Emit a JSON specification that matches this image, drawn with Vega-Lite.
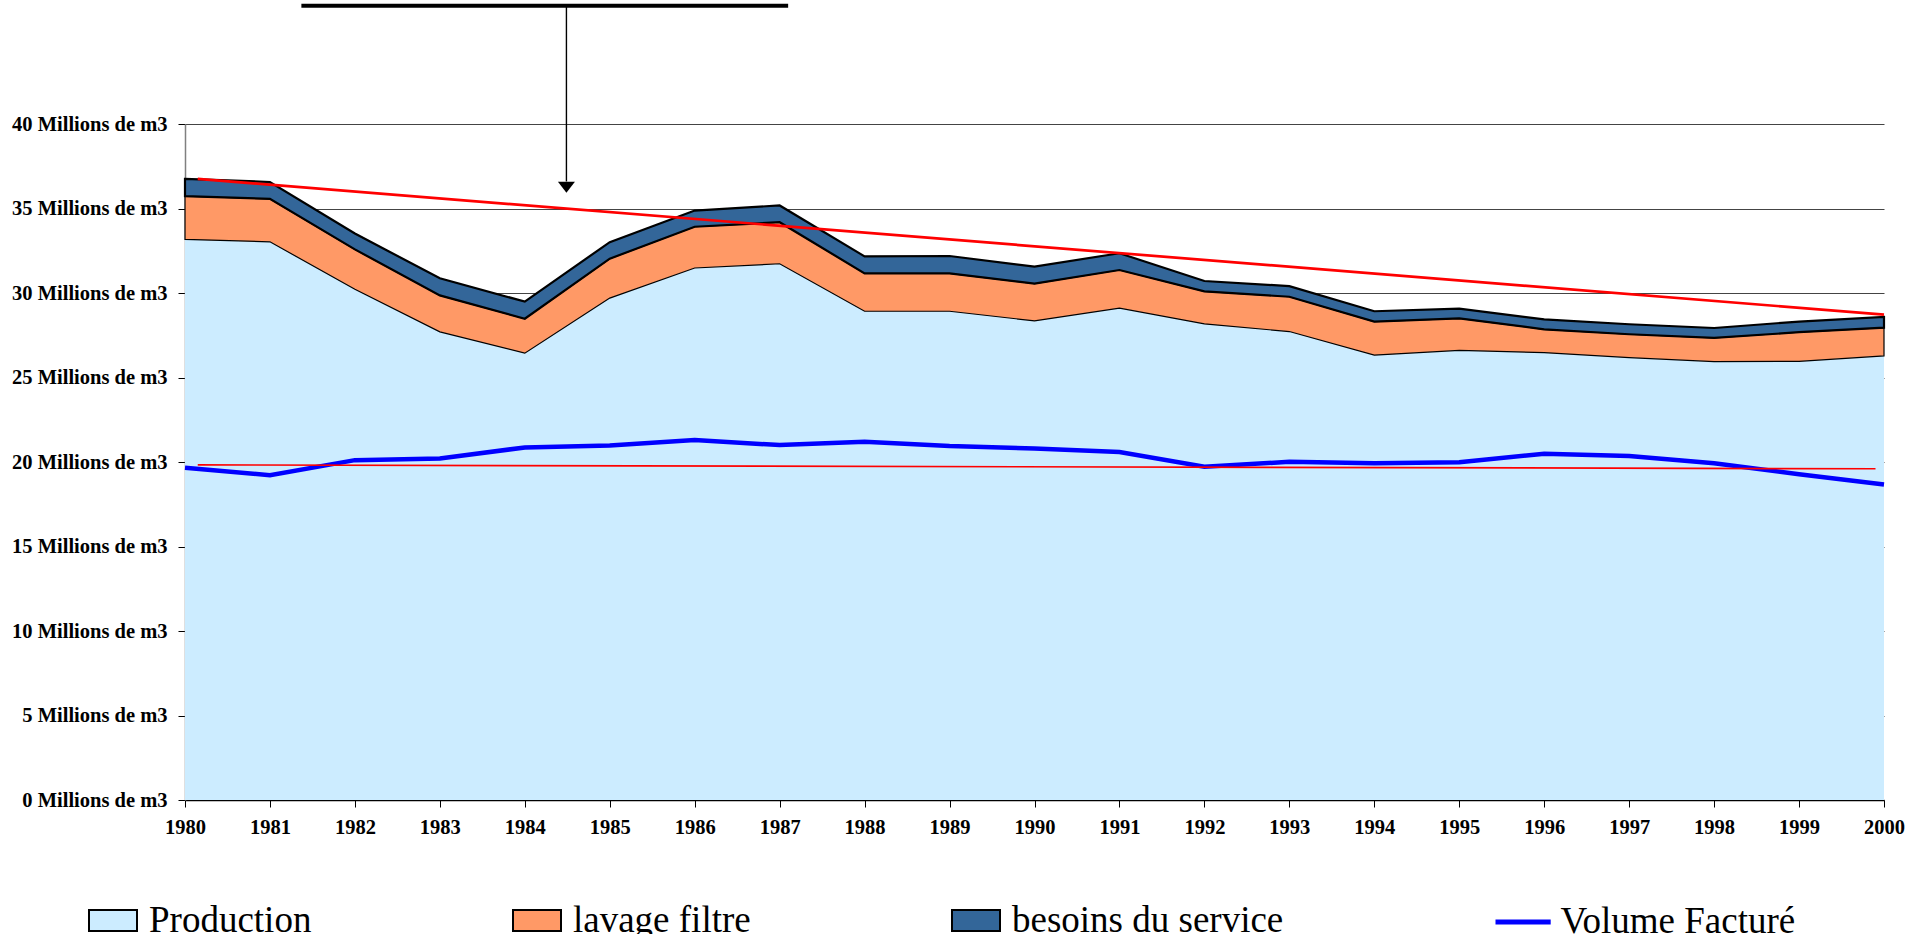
{
  "$schema": "https://vega.github.io/schema/vega-lite/v6.json",
  "width": 1699,
  "height": 676,
  "autosize": {"type": "none"},
  "padding": {"left": 185, "top": 124, "right": 25, "bottom": 134},
  "background": "white",
  "config": {
    "view": {"stroke": null},
    "axis": {
      "labelFont": "Liberation Serif",
      "labelFontWeight": "bold",
      "labelFontSize": 20.5,
      "labelColor": "black",
      "tickColor": "black",
      "tickSize": 7,
      "title": null
    },
    "legend": {
      "padding": 0,
      "title": null,
      "orient": "none",
      "direction": "horizontal",
      "labelFont": "Liberation Serif",
      "labelFontSize": 37,
      "labelColor": "black",
      "labelOffset": 11,
      "labelLimit": 0,
      "symbolSize": 2304,
      "symbolOpacity": 1
    }
  },
  "datasets": {
    "areas": [
      {"year": 1980, "series": "Production", "value": 33.17}, {"year": 1980, "series": "lavage filtre", "value": 2.56}, {"year": 1980, "series": "besoins du service", "value": 1.02},
      {"year": 1981, "series": "Production", "value": 33.03}, {"year": 1981, "series": "lavage filtre", "value": 2.54}, {"year": 1981, "series": "besoins du service", "value": 1.00},
      {"year": 1982, "series": "Production", "value": 30.22}, {"year": 1982, "series": "lavage filtre", "value": 2.36}, {"year": 1982, "series": "besoins du service", "value": 0.94},
      {"year": 1983, "series": "Production", "value": 27.70}, {"year": 1983, "series": "lavage filtre", "value": 2.16}, {"year": 1983, "series": "besoins du service", "value": 1.01},
      {"year": 1984, "series": "Production", "value": 26.44}, {"year": 1984, "series": "lavage filtre", "value": 2.04}, {"year": 1984, "series": "besoins du service", "value": 1.01},
      {"year": 1985, "series": "Production", "value": 29.70}, {"year": 1985, "series": "lavage filtre", "value": 2.33}, {"year": 1985, "series": "besoins du service", "value": 0.98},
      {"year": 1986, "series": "Production", "value": 31.48}, {"year": 1986, "series": "lavage filtre", "value": 2.44}, {"year": 1986, "series": "besoins du service", "value": 0.96},
      {"year": 1987, "series": "Production", "value": 31.73}, {"year": 1987, "series": "lavage filtre", "value": 2.46}, {"year": 1987, "series": "besoins du service", "value": 0.99},
      {"year": 1988, "series": "Production", "value": 28.92}, {"year": 1988, "series": "lavage filtre", "value": 2.24}, {"year": 1988, "series": "besoins du service", "value": 1.01},
      {"year": 1989, "series": "Production", "value": 28.92}, {"year": 1989, "series": "lavage filtre", "value": 2.24}, {"year": 1989, "series": "besoins du service", "value": 1.03},
      {"year": 1990, "series": "Production", "value": 28.35}, {"year": 1990, "series": "lavage filtre", "value": 2.20}, {"year": 1990, "series": "besoins du service", "value": 1.01},
      {"year": 1991, "series": "Production", "value": 29.11}, {"year": 1991, "series": "lavage filtre", "value": 2.25}, {"year": 1991, "series": "besoins du service", "value": 0.99},
      {"year": 1992, "series": "Production", "value": 28.17}, {"year": 1992, "series": "lavage filtre", "value": 1.93}, {"year": 1992, "series": "besoins du service", "value": 0.61},
      {"year": 1993, "series": "Production", "value": 27.72}, {"year": 1993, "series": "lavage filtre", "value": 2.06}, {"year": 1993, "series": "besoins du service", "value": 0.63},
      {"year": 1994, "series": "Production", "value": 26.32}, {"year": 1994, "series": "lavage filtre", "value": 1.99}, {"year": 1994, "series": "besoins du service", "value": 0.61},
      {"year": 1995, "series": "Production", "value": 26.61}, {"year": 1995, "series": "lavage filtre", "value": 1.89}, {"year": 1995, "series": "besoins du service", "value": 0.57},
      {"year": 1996, "series": "Production", "value": 26.47}, {"year": 1996, "series": "lavage filtre", "value": 1.38}, {"year": 1996, "series": "besoins du service", "value": 0.59},
      {"year": 1997, "series": "Production", "value": 26.18}, {"year": 1997, "series": "lavage filtre", "value": 1.38}, {"year": 1997, "series": "besoins du service", "value": 0.59},
      {"year": 1998, "series": "Production", "value": 25.94}, {"year": 1998, "series": "lavage filtre", "value": 1.40}, {"year": 1998, "series": "besoins du service", "value": 0.59},
      {"year": 1999, "series": "Production", "value": 25.96}, {"year": 1999, "series": "lavage filtre", "value": 1.72}, {"year": 1999, "series": "besoins du service", "value": 0.63},
      {"year": 2000, "series": "Production", "value": 26.28}, {"year": 2000, "series": "lavage filtre", "value": 1.67}, {"year": 2000, "series": "besoins du service", "value": 0.63}
    ],
    "facture": [
      {"year": 1980, "series": "Volume Facturé", "value": 19.66},
      {"year": 1981, "series": "Volume Facturé", "value": 19.22},
      {"year": 1982, "series": "Volume Facturé", "value": 20.11},
      {"year": 1983, "series": "Volume Facturé", "value": 20.21},
      {"year": 1984, "series": "Volume Facturé", "value": 20.86},
      {"year": 1985, "series": "Volume Facturé", "value": 20.98},
      {"year": 1986, "series": "Volume Facturé", "value": 21.30},
      {"year": 1987, "series": "Volume Facturé", "value": 21.00},
      {"year": 1988, "series": "Volume Facturé", "value": 21.20},
      {"year": 1989, "series": "Volume Facturé", "value": 20.94},
      {"year": 1990, "series": "Volume Facturé", "value": 20.80},
      {"year": 1991, "series": "Volume Facturé", "value": 20.59},
      {"year": 1992, "series": "Volume Facturé", "value": 19.72},
      {"year": 1993, "series": "Volume Facturé", "value": 20.01},
      {"year": 1994, "series": "Volume Facturé", "value": 19.92},
      {"year": 1995, "series": "Volume Facturé", "value": 19.98},
      {"year": 1996, "series": "Volume Facturé", "value": 20.49},
      {"year": 1997, "series": "Volume Facturé", "value": 20.35},
      {"year": 1998, "series": "Volume Facturé", "value": 19.92},
      {"year": 1999, "series": "Volume Facturé", "value": 19.28},
      {"year": 2000, "series": "Volume Facturé", "value": 18.67}
    ],
    "trends": [
      {"year": 1980.15, "value": 36.75, "line": "haut"},
      {"year": 2000, "value": 28.72, "line": "haut"},
      {"year": 1980.15, "value": 19.83, "line": "bas"},
      {"year": 1999.9, "value": 19.60, "line": "bas"}
    ],
    "annot_h": [{"x1": 1981.37, "x2": 1987.10, "y": 47.0}],
    "annot_v": [{"x": 1984.49, "y1": 47.0, "y2": 36.6, "tip": 36.26}]
  },
  "layer": [
    {
      "data": {"name": "areas"},
      "transform": [
        {"stack": "value", "groupby": ["year"], "sort": [{"field": "value", "order": "descending"}], "as": ["v0", "v1"]}
      ],
      "mark": {"type": "area", "opacity": 1, "stroke": "black", "strokeJoin": "miter"},
      "encoding": {
        "x": {
          "field": "year", "type": "quantitative",
          "scale": {"domain": [1980, 2000], "nice": false, "zero": false},
          "axis": {
            "values": [1980,1981,1982,1983,1984,1985,1986,1987,1988,1989,1990,1991,1992,1993,1994,1995,1996,1997,1998,1999,2000],
            "format": "d", "grid": false, "domainColor": "black", "domainWidth": 1.5,
            "labelPadding": 10, "labelFlush": false, "labelOverlap": false
          }
        },
        "y": {
          "field": "v1", "type": "quantitative",
          "scale": {"domain": [0, 40], "nice": false},
          "axis": {
            "values": [0,5,10,15,20,25,30,35,40],
            "labelExpr": "datum.value + ' Millions de m3'",
            "grid": true, "gridColor": "#444444", "gridWidth": 1,
            "domainColor": "#808080", "domainWidth": 1.5,
            "labelPadding": 11
          }
        },
        "y2": {"field": "v0"},
        "fill": {
          "field": "series", "type": "nominal",
          "sort": ["Production", "lavage filtre", "besoins du service"],
          "scale": {
            "domain": ["Production", "lavage filtre", "besoins du service"],
            "range": ["#CCECFF", "#FF9966", "#336699"]
          },
          "legend": {
            "legendX": -97,
            "legendY": 771.5,
            "symbolType": "M-1,-0.44H1V0.44H-1Z",
            "symbolStrokeColor": "black",
            "symbolStrokeWidth": 2,
            "columnPadding": 197
          }
        },
        "strokeWidth": {
          "condition": [
            {"test": "datum.series === 'besoins du service'", "value": 2.2},
            {"test": "datum.series === 'Production'", "value": 0}
          ],
          "value": 1.2
        }
      }
    },
    {
      "data": {"name": "facture"},
      "mark": {"type": "line", "strokeWidth": 4.5, "strokeJoin": "miter"},
      "encoding": {
        "x": {"field": "year", "type": "quantitative"},
        "y": {"field": "value", "type": "quantitative"},
        "stroke": {
          "field": "series", "type": "nominal",
          "scale": {"domain": ["Volume Facturé"], "range": ["#0000FF"]},
          "legend": {
            "legendX": 1311.6,
            "legendY": 771.5,
            "symbolType": "M-1.15,0H1.15",
            "symbolStrokeWidth": 5
          }
        }
      }
    },
    {
      "data": {"name": "trends"},
      "mark": {"type": "line", "stroke": "#FF0000"},
      "encoding": {
        "x": {"field": "year", "type": "quantitative"},
        "y": {"field": "value", "type": "quantitative"},
        "detail": {"field": "line", "type": "nominal"},
        "strokeWidth": {"condition": {"test": "datum.line === 'haut'", "value": 2.7}, "value": 1.7}
      }
    },
    {
      "data": {"name": "annot_h"},
      "mark": {"type": "rule", "stroke": "black", "strokeWidth": 4},
      "encoding": {
        "x": {"field": "x1", "type": "quantitative"},
        "x2": {"field": "x2"},
        "y": {"field": "y", "type": "quantitative"}
      }
    },
    {
      "data": {"name": "annot_v"},
      "mark": {"type": "rule", "stroke": "black", "strokeWidth": 1.4},
      "encoding": {
        "x": {"field": "x", "type": "quantitative"},
        "y": {"field": "y1", "type": "quantitative"},
        "y2": {"field": "y2"}
      }
    },
    {
      "data": {"name": "annot_v"},
      "mark": {"type": "point", "shape": "M-1,-0.65L1,-0.65L0,0.65Z", "filled": true, "fill": "black", "stroke": null, "size": 289, "opacity": 1},
      "encoding": {
        "x": {"field": "x", "type": "quantitative"},
        "y": {"field": "tip", "type": "quantitative"}
      }
    }
  ]
}
